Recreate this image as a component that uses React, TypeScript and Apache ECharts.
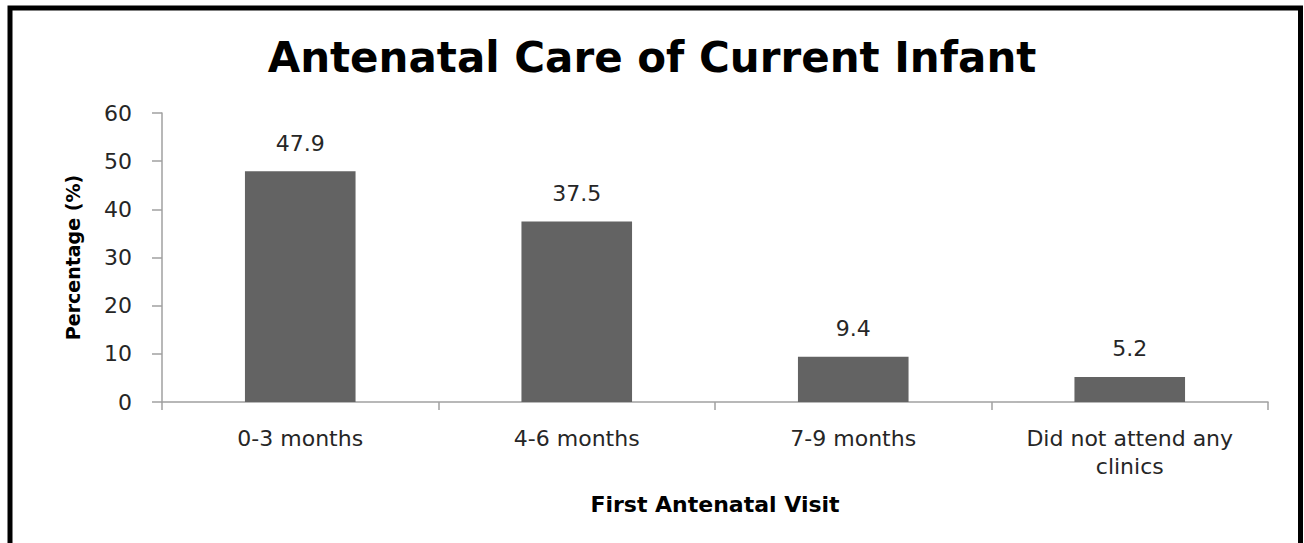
import React, { useEffect, useRef } from "react";
import * as echarts from "echarts";

const titleText = "Antenatal Care of Current Infant";
const categories = ["0-3 months", "4-6 months", "7-9 months", "Did not attend any\nclinics"];
const values = [47.9, 37.5, 9.4, 5.2];
const yMin = 0;
const yMax = 60;
const yInterval = 10;
const xName = "First Antenatal Visit";
const yName = "Percentage (%)";

const FONT = "'DejaVu Sans', sans-serif";

export default function App() {
  const ref = useRef<HTMLDivElement>(null);
  useEffect(() => {
    if (!ref.current) return;
    const chart = echarts.init(ref.current, undefined, { renderer: "svg" });
    chart.setOption({
      animation: false,
      backgroundColor: "#ffffff",
      title: {
        text: titleText,
        left: "center",
        top: 31,
        textStyle: { fontFamily: FONT, fontSize: 42, fontWeight: "bold", color: "#000" },
      },
      graphic: [
        {
          type: "rect",
          shape: { x: 10, y: 8, width: 1290.5, height: 620 },
          style: { fill: "none", stroke: "#000", lineWidth: 5 },
          silent: true,
        },
      ],
      grid: { left: 162, right: 36, top: 113, bottom: 141, containLabel: false },
      xAxis: {
        type: "category",
        data: categories,
        name: xName,
        nameLocation: "middle",
        nameGap: 91,
        nameTextStyle: { fontFamily: FONT, fontSize: 22, fontWeight: "bold", color: "#000" },
        axisLine: { lineStyle: { color: "#a0a0a0", width: 1.5 } },
        axisTick: { show: true, alignWithLabel: false, length: 8, lineStyle: { color: "#a0a0a0", width: 1.5 } },
        axisLabel: {
          fontFamily: FONT,
          fontSize: 22,
          color: "#262626",
          margin: 22,
          lineHeight: 28,
          interval: 0,
        },
      },
      yAxis: {
        type: "value",
        min: yMin,
        max: yMax,
        interval: yInterval,
        name: yName,
        nameLocation: "middle",
        nameRotate: 90,
        nameGap: 80,
        nameTextStyle: { fontFamily: FONT, fontSize: 19, fontWeight: "bold", color: "#000" },
        axisLine: { show: true, lineStyle: { color: "#a0a0a0", width: 1.5 } },
        axisTick: { show: true, length: 10, lineStyle: { color: "#a0a0a0", width: 1.5 } },
        splitLine: { show: false },
        axisLabel: { fontFamily: FONT, fontSize: 22, color: "#262626", margin: 30 },
      },
      series: [
        {
          type: "bar",
          data: values,
          barWidth: "40%",
          itemStyle: { color: "#636363" },
          label: {
            show: true,
            position: "top",
            distance: 17,
            fontFamily: FONT,
            fontSize: 22,
            color: "#262626",
          },
        },
      ],
    });
    return () => chart.dispose();
  }, []);
  return (
    <div
      ref={ref}
      style={{ position: "fixed", left: 0, top: 0, width: 1304, height: 543, background: "#fff" }}
    />
  );
}
